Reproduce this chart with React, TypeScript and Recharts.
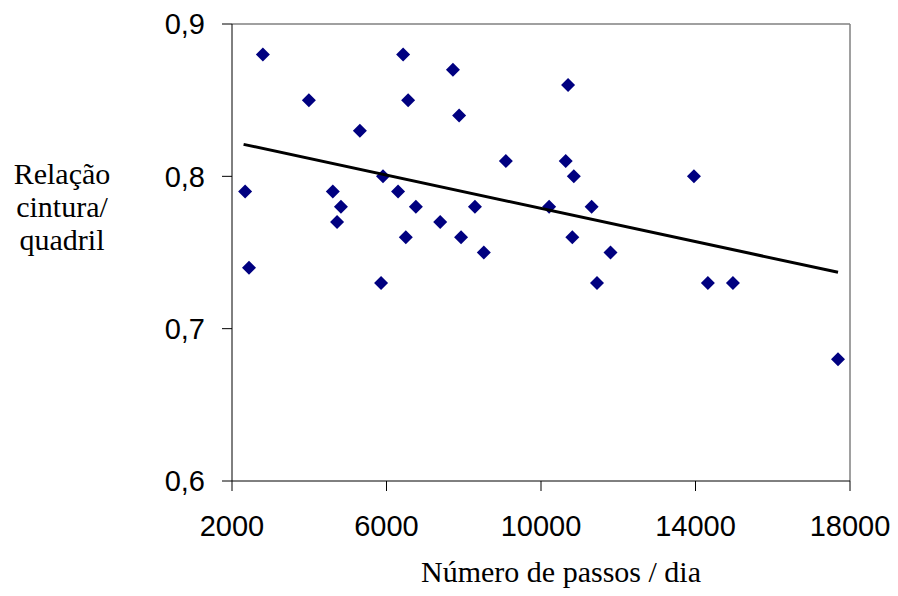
import { ScatterChart, Scatter, XAxis, YAxis, ReferenceLine } from 'recharts';

// passos/dia e relação cintura/quadril por indivíduo
const steps = [
  2340, 2440, 2800, 3990, 4610, 4720, 4820, 5310, 5860, 5910, 6300, 6430, 6500, 6560, 6760, 7390, 7720,
  7880, 7930, 8290, 8520, 9090, 10210, 10640, 10700, 10810, 10850, 11310, 11450, 11800, 13960, 14320,
  14970, 17690,
];
const ratio = [
  0.79, 0.74, 0.88, 0.85, 0.79, 0.77, 0.78, 0.83, 0.73, 0.8, 0.79, 0.88, 0.76, 0.85, 0.78, 0.77, 0.87,
  0.84, 0.76, 0.78, 0.75, 0.81, 0.78, 0.81, 0.86, 0.76, 0.8, 0.78, 0.73, 0.75, 0.8, 0.73, 0.73, 0.68,
];

// linha de tendência (regressão linear)
const trendSteps = [2300, 17690];
const trendRatio = [0.821, 0.737];

const xTicks = [2000, 6000, 10000, 14000, 18000];
const yTicks = [0.6, 0.7, 0.8, 0.9];

const points = steps.map((x, i) => ({ x, y: ratio[i] }));
const trend = trendSteps.map((x, i) => ({ x, y: trendRatio[i] }));

const SANS = '"Liberation Sans", Arial, sans-serif';
const SERIF = '"Liberation Serif", "Times New Roman", serif';

function Diamond(props: any) {
  const { cx, cy } = props;
  const r = 7;
  return (
    <polygon
      points={`${cx},${cy - r} ${cx + r},${cy} ${cx},${cy + r} ${cx - r},${cy}`}
      fill="#000080"
    />
  );
}

function YTitle(props: any) {
  const vb = props.viewBox || { x: 0, y: 0, width: 0, height: 0 };
  const x = vb.x + 54;
  const mid = vb.y + vb.height / 2 - 36;
  const lines = ['Relação', 'cintura/', 'quadril'];
  return (
    <text x={x} textAnchor="middle" fontFamily={SERIF} fontSize={30} fill="#000">
      {lines.map((l, i) => (
        <tspan key={l} x={x} y={mid + (i - 1) * 33}>
          {l}
        </tspan>
      ))}
    </text>
  );
}

function XTitle(props: any) {
  const vb = props.viewBox || { x: 0, y: 0, width: 0, height: 0 };
  return (
    <text
      x={vb.x + vb.width / 2 + 20}
      y={vb.y + 101}
      textAnchor="middle"
      fontFamily={SERIF}
      fontSize={30}
      fill="#000"
    >
      Número de passos / dia
    </text>
  );
}

export default function App() {
  return (
    <ScatterChart width={890} height={588} margin={{ top: 16, right: 48, bottom: 0, left: 0 }}>
      <XAxis
        type="number"
        dataKey="x"
        domain={[2000, 18000]}
        ticks={xTicks}
        interval={0}
        height={115}
        tickSize={10}
        tickMargin={24}
        stroke="#000"
        tick={{ fontSize: 29, fontFamily: SANS, fill: '#000' }}
        label={<XTitle />}
      />
      <YAxis
        type="number"
        dataKey="y"
        domain={[0.6, 0.9]}
        ticks={yTicks}
        interval={0}
        width={224}
        tickSize={10}
        tickMargin={17}
        stroke="#000"
        tickFormatter={(v: number) => v.toFixed(1).replace('.', ',')}
        tick={{ fontSize: 29, fontFamily: SANS, fill: '#000' }}
        label={<YTitle />}
      />
      {/* moldura superior e direita */}
      <ReferenceLine y={0.9} stroke="#808080" strokeWidth={1.5} />
      <ReferenceLine x={18000} stroke="#808080" strokeWidth={1.5} />
      <Scatter data={points} shape={<Diamond />} isAnimationActive={false} />
      <Scatter
        data={trend}
        line={{ stroke: '#000', strokeWidth: 3 }}
        shape={() => <g />}
        isAnimationActive={false}
      />
    </ScatterChart>
  );
}
